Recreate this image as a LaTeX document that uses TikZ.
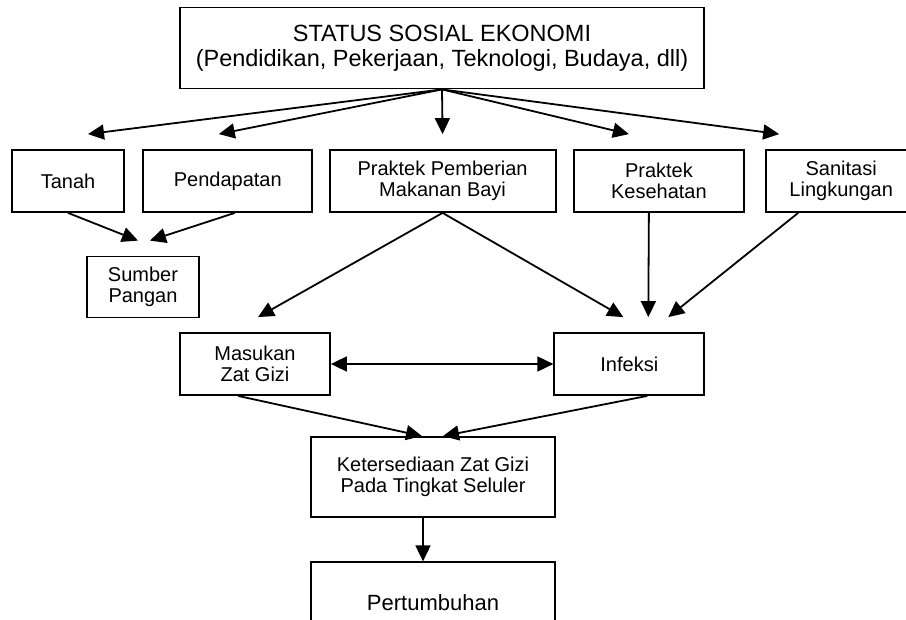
\documentclass[tikz,border=0pt]{standalone}
\usepackage{fontspec}
\setmainfont{Liberation Sans}
\usetikzlibrary{arrows.meta, positioning}

\begin{document}
\begin{tikzpicture}[
    x=1pt, y=-1pt,
    node distance=16pt,
    box/.style={rectangle, draw=black, line width=1.8pt, align=center, inner sep=2pt, font=\fontsize{20}{21}\selectfont},
    rowbox/.style={box, minimum height=62pt},
    arrow/.style={line width=1.8pt, -{Triangle[length=16pt,width=15pt]}},
    biarrow/.style={line width=1.8pt, {Triangle[length=16pt,width=15pt]}-{Triangle[length=16pt,width=15pt]}}
]

    \useasboundingbox (0,0) rectangle (906,620);

    \node[box, minimum width=524pt, minimum height=81pt, font=\fontsize{23.5}{25}\selectfont] (status) at (442,48) {STATUS SOSIAL EKONOMI\\(Pendidikan, Pekerjaan, Teknologi, Budaya, dll)};

    % second row
    \node[rowbox, minimum width=112pt] (tanah) at (68,181) {Tanah};
    \node[rowbox, minimum width=169pt, right=17.5pt of tanah] (pendapatan) {Pendapatan};
    \node[rowbox, minimum width=226pt, right=15.5pt of pendapatan] (pemberian) {Praktek Pemberian\\Makanan Bayi};
    \node[rowbox, minimum width=170pt, right=16.5pt of pemberian] (kesehatan) {Praktek\\Kesehatan};
    \node[rowbox, minimum width=150pt, right=20.5pt of kesehatan] (sanitasi) {Sanitasi\\Lingkungan};

    \node[box, minimum width=112pt, minimum height=61pt] (sumber) at (143,287) {Sumber\\Pangan};

    \node[rowbox, minimum width=150pt] (masukan) at (255,364) {Masukan\\Zat Gizi};
    \node[rowbox, minimum width=150pt, right=222.5pt of masukan] (infeksi) {Infeksi};

    \node[box, minimum width=244pt, minimum height=80pt] (ketersediaan) at (433,477) {Ketersediaan Zat Gizi\\Pada Tingkat Seluler};
    \node[box, minimum width=244pt, minimum height=80pt, below=43.5pt of ketersediaan, font=\fontsize{22}{24}\selectfont] (pertumbuhan) {Pertumbuhan};

    % free arrow ends
    \coordinate (toTanah) at ([xshift=20pt, yshift=15pt]tanah.north);
    \coordinate (toPendapatan) at ([xshift=-9pt, yshift=15pt]pendapatan.north);
    \coordinate (toPemberian) at ([yshift=15pt]pemberian.north);
    \coordinate (toKesehatan) at ([xshift=-30pt, yshift=15pt]kesehatan.north);
    \coordinate (toSanitasi) at ([xshift=-62pt, yshift=15pt]sanitasi.north);
    \coordinate (toSumberL) at ([xshift=-5pt, yshift=15pt]sumber.north);
    \coordinate (toSumberR) at ([xshift=7pt, yshift=15pt]sumber.north);
    \coordinate (toMasukan) at ([xshift=3pt, yshift=15pt]masukan.north);
    \coordinate (toInfeksiL) at ([xshift=-6pt, yshift=15pt]infeksi.north);
    \coordinate (toInfeksiM) at ([xshift=19pt, yshift=15pt]infeksi.north);
    \coordinate (toInfeksiR) at ([xshift=39pt, yshift=15pt]infeksi.north);

    \draw[arrow] (status.south) -- (toTanah);
    \draw[arrow] (status.south) -- (toPendapatan);
    \draw[arrow] (status.south) -- (toPemberian);
    \draw[arrow] (status.south) -- (toKesehatan);
    \draw[arrow] (status.south) -- (toSanitasi);

    \draw[arrow] (tanah.south) -- (toSumberL);
    \draw[arrow] ([xshift=7pt]pendapatan.south) -- (toSumberR);

    \draw[arrow] (pemberian.south) -- (toMasukan);
    \draw[arrow] (pemberian.south) -- (toInfeksiL);
    \draw[arrow] ([xshift=-10pt]kesehatan.south) -- (toInfeksiM);
    \draw[arrow] ([xshift=-43pt]sanitasi.south) -- (toInfeksiR);

    \draw[biarrow] (masukan) -- (infeksi);

    \draw[arrow] ([xshift=-17pt]masukan.south) -- ([xshift=-11pt]ketersediaan.north);
    \draw[arrow] ([xshift=18pt]infeksi.south) -- ([xshift=10pt]ketersediaan.north);
    \draw[arrow] ([xshift=-10pt]ketersediaan.south) -- ([xshift=-10pt]pertumbuhan.north);

\end{tikzpicture}
\end{document}
